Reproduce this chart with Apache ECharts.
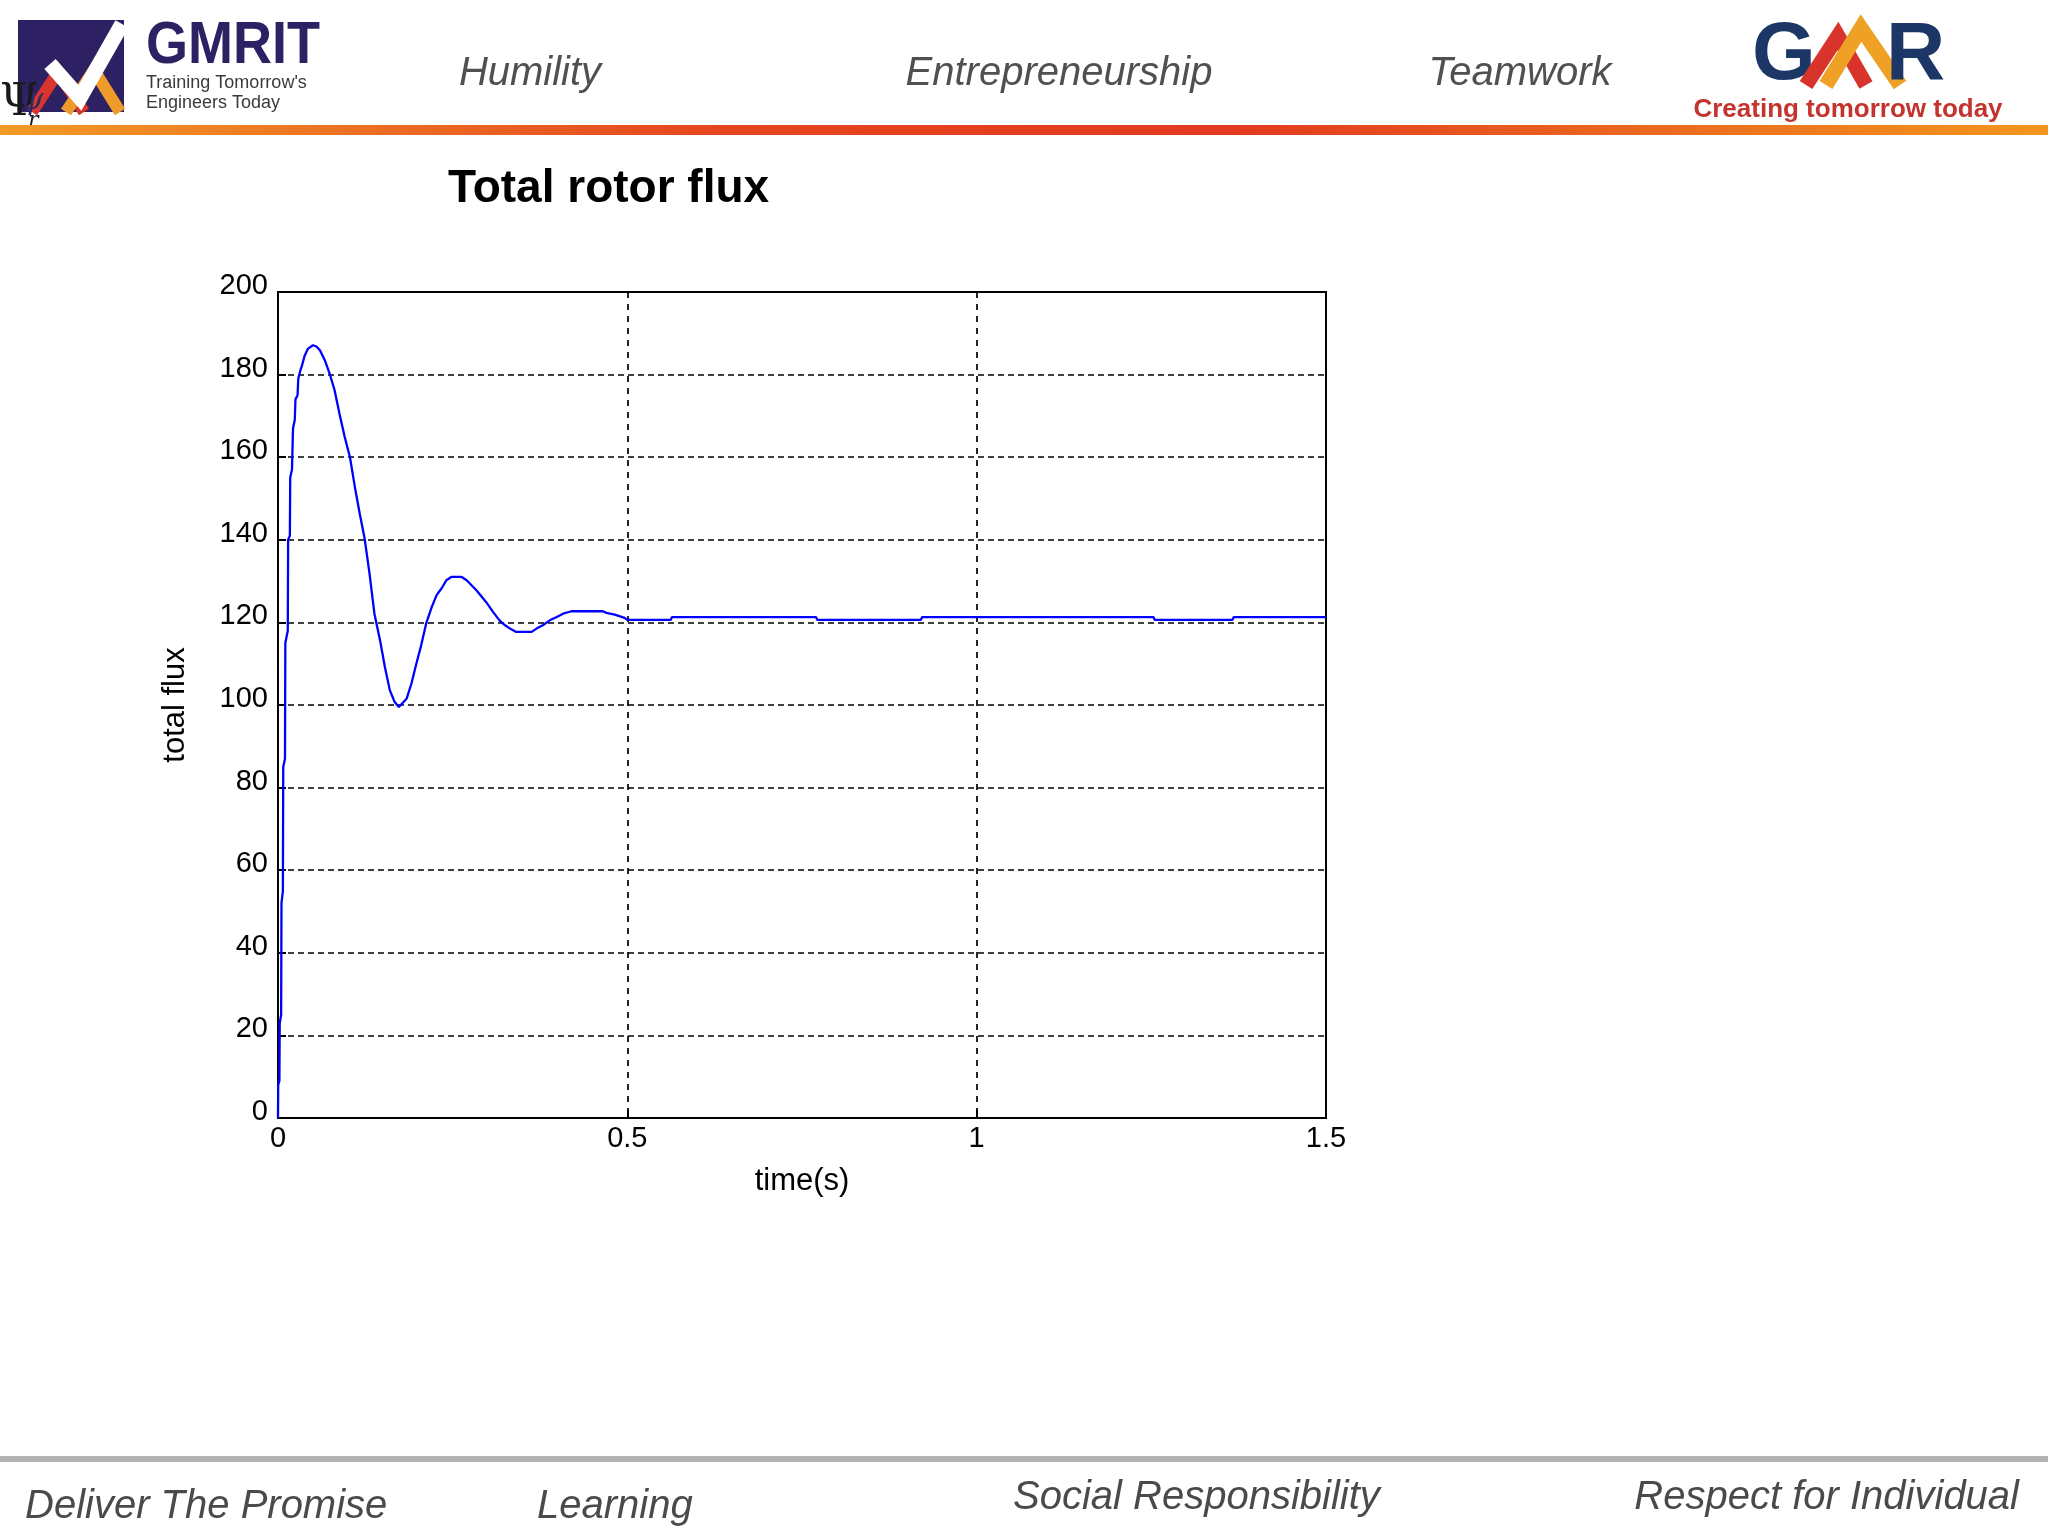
<!DOCTYPE html>
<html>
<head>
<meta charset="utf-8">
<script src="https://cdn.jsdelivr.net/npm/echarts@6/dist/echarts.min.js"></script>
<style>
html,body{margin:0;padding:0;background:#fff;}
#chart{width:2048px;height:1536px;}
</style>
</head>
<body>
<div id="chart"></div>
<script>
// ---- data ----
const times = [0, 0.0003, 0.002, 0.0025, 0.0045, 0.005, 0.007, 0.0075, 0.010, 0.0105, 0.014, 0.0145, 0.017, 0.0175, 0.020, 0.0215, 0.024, 0.025, 0.028, 0.029, 0.032, 0.034, 0.038, 0.043, 0.050, 0.055, 0.060, 0.067, 0.074, 0.081, 0.088, 0.0955, 0.103, 0.110, 0.117, 0.124, 0.131, 0.138, 0.146, 0.153, 0.160, 0.167, 0.173, 0.184, 0.191, 0.198, 0.205, 0.212, 0.220, 0.227, 0.234, 0.241, 0.248, 0.263, 0.270, 0.284, 0.298, 0.308, 0.317, 0.325, 0.332, 0.341, 0.363, 0.370, 0.379, 0.389, 0.399, 0.408, 0.420, 0.465, 0.470, 0.482, 0.496, 0.500, 0.562, 0.564, 0.770, 0.772, 0.920, 0.922, 1.253, 1.255, 1.366, 1.368, 1.5];
const flux = [0, 8, 9, 23, 25, 52, 55, 85, 87, 115, 118, 140, 141, 155, 157, 167, 169, 174, 175, 179, 181, 182, 184.5, 186.3, 187.1, 186.8, 185.9, 183.5, 180.2, 176.2, 170.5, 164.9, 160, 152.8, 146.3, 140.3, 131.8, 122.1, 115.7, 109.2, 103.6, 100.7, 99.5, 101.5, 105.2, 110, 114.5, 119.7, 123.7, 126.6, 128.2, 130.2, 131, 131, 130.2, 127.8, 124.9, 122.5, 120.5, 119.3, 118.5, 117.7, 117.7, 118.5, 119.3, 120.5, 121.3, 122.1, 122.7, 122.7, 122.3, 121.9, 121.1, 120.6, 120.6, 121.3, 121.3, 120.6, 120.6, 121.3, 121.3, 120.6, 120.6, 121.3, 121.3];
const xTicks = [0, 0.5, 1, 1.5];
const yTicks = [0, 20, 40, 60, 80, 100, 120, 140, 160, 180, 200];
const chartTitle = 'Total rotor flux';
const xName = 'time(s)';
const yName = 'total flux';
const headerWords = ['Humility', 'Entrepreneurship', 'Teamwork'];
const footerWords = ['Deliver The Promise', 'Learning', 'Social Responsibility', 'Respect for Individual'];

const FONT = '"Liberation Sans", Arial, Helvetica, sans-serif';
const chart = echarts.init(document.getElementById('chart'), null, {renderer: 'canvas'});

const seriesData = times.map((t, i) => [t, flux[i]]);

const headerPos = [[530, 74], [1059, 74], [1520, 74]];
const footerPos = [[25, 1507, 'left'], [537, 1507, 'left'], [1013, 1498, 'left'], [2019, 1498, 'right']];

const graphics = [
  // header gradient bar
  {type: 'rect', shape: {x: 0, y: 125, width: 2048, height: 10}, z: 1,
   style: {fill: new echarts.graphic.LinearGradient(0, 0, 1, 0, [
     {offset: 0, color: '#F29A26'}, {offset: 0.35, color: '#E5461F'},
     {offset: 0.6, color: '#E23A1F'}, {offset: 1, color: '#F2961E'}])}},
  // footer grey bar
  {type: 'rect', shape: {x: 0, y: 1456, width: 2048, height: 6}, style: {fill: '#b3b3b3'}},
  // GMRIT logo
  {type: 'rect', shape: {x: 18, y: 20, width: 106, height: 92}, style: {fill: '#2D2163'}},
  {type: 'polyline', shape: {points: [[32, 112], [58, 72], [84, 112]]}, style: {stroke: '#D8362C', lineWidth: 12, fill: null}},
  {type: 'polyline', shape: {points: [[66, 112], [94, 70], [120, 112]]}, style: {stroke: '#EE9B2B', lineWidth: 12, fill: null}},
  {type: 'polyline', shape: {points: [[50, 64], [80, 98], [122, 24]]}, style: {stroke: '#ffffff', lineWidth: 15, fill: null}},
  {type: 'text', x: 146, y: 16, scaleX: 0.9, style: {text: 'GMRIT', font: 'bold 60px ' + FONT, fill: '#2A2262'}},
  {type: 'text', x: 146, y: 83, style: {text: "Training Tomorrow's", font: '18px ' + FONT, fill: '#3a3a3a', textVerticalAlign: 'middle'}},
  {type: 'text', x: 146, y: 103, style: {text: 'Engineers Today', font: '18px ' + FONT, fill: '#3a3a3a', textVerticalAlign: 'middle'}},
  // psi symbol
  {type: 'text', x: 0, y: 82, style: {text: 'Ψ', font: '44px "DejaVu Serif", serif', fill: '#1a1a1a'}},
  {type: 'text', x: 20, y: 86, style: {text: 'ψ', font: 'italic 30px "DejaVu Serif", serif', fill: '#2a2a6a'}},
  {type: 'text', x: 28, y: 110, style: {text: 'r', font: 'italic 22px "DejaVu Serif", serif', fill: '#1a1a1a'}},
  // GMR logo
  {type: 'text', x: 1752, y: 56, style: {text: 'G', font: 'bold 82px ' + FONT, fill: '#1C3766', textVerticalAlign: 'middle'}},
  {type: 'polyline', shape: {points: [[1806, 85], [1838, 36], [1866, 85]]}, style: {stroke: '#D9342B', lineWidth: 15, fill: null}},
  {type: 'polyline', shape: {points: [[1826, 85], [1861, 28], [1900, 85]]}, style: {stroke: '#EFA126', lineWidth: 15, fill: null}},
  {type: 'text', x: 1886, y: 56, style: {text: 'R', font: 'bold 82px ' + FONT, fill: '#1C3766', textVerticalAlign: 'middle'}},
  {type: 'text', x: 1848, y: 110, style: {text: 'Creating tomorrow today', font: 'bold 26px ' + FONT, fill: '#C4332E', textAlign: 'center', textVerticalAlign: 'middle'}}
];
headerWords.forEach((w, i) => graphics.push({type: 'text', x: headerPos[i][0], y: headerPos[i][1],
  style: {text: w, font: 'italic 40px ' + FONT, fill: '#505050', textAlign: 'center', textVerticalAlign: 'middle'}}));
footerWords.forEach((w, i) => graphics.push({type: 'text', x: footerPos[i][0], y: footerPos[i][1],
  style: {text: w, font: 'italic 40px ' + FONT, fill: '#4a4a4a', textAlign: footerPos[i][2], textVerticalAlign: 'middle'}}));

const option = {
  backgroundColor: '#ffffff',
  animation: false,
  title: {
    text: chartTitle, left: 443, top: 161,
    textStyle: {fontFamily: FONT, fontSize: 46, fontWeight: 'bold', color: '#000'}
  },
  grid: {left: 278, top: 292, width: 1048, height: 826, show: true, borderColor: '#000', borderWidth: 2, backgroundColor: 'transparent'},
  xAxis: {
    type: 'value', min: xTicks[0], max: xTicks[xTicks.length - 1], interval: 0.5,
    name: xName, nameLocation: 'middle', nameGap: 48,
    nameTextStyle: {fontFamily: FONT, fontSize: 31, color: '#000'},
    axisLine: {lineStyle: {color: '#000', width: 2}},
    axisTick: {inside: true, length: 8, lineStyle: {color: '#000', width: 2}},
    axisLabel: {fontFamily: FONT, fontSize: 29, color: '#000', margin: 6,
      formatter: v => { const i = xTicks.indexOf(v); return i >= 0 ? String(xTicks[i]) : ''; }},
    splitLine: {show: true, lineStyle: {color: '#000', width: 1.7, type: [6, 6]}}
  },
  yAxis: {
    type: 'value', min: yTicks[0], max: yTicks[yTicks.length - 1], interval: 20,
    name: yName, nameLocation: 'middle', nameGap: 87,
    nameTextStyle: {fontFamily: FONT, fontSize: 31, color: '#000'},
    axisLine: {show: true, lineStyle: {color: '#000', width: 2}},
    axisTick: {show: true, inside: true, length: 8, lineStyle: {color: '#000', width: 2}},
    axisLabel: {fontFamily: FONT, fontSize: 29, color: '#000', margin: 10,
      formatter: v => '{a|' + v + '}',
      rich: {a: {fontFamily: FONT, fontSize: 29, color: '#000', padding: [0, 0, 12, 0]}}},
    splitLine: {show: true, lineStyle: {color: '#000', width: 1.7, type: [6, 4]}}
  },
  series: [{
    type: 'line', data: seriesData, showSymbol: false, symbol: 'none',
    lineStyle: {color: '#0000FF', width: 2.3}, z: 5
  }],
  graphic: graphics
};
chart.setOption(option);
</script>
</body>
</html>
